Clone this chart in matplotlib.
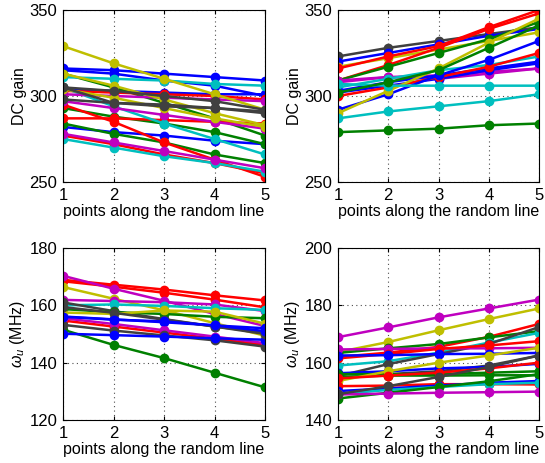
import matplotlib
matplotlib.use("Agg")
import matplotlib.pyplot as plt

plt.rcParams['font.family'] = ['Liberation Sans', 'DejaVu Sans']
plt.rcParams['mathtext.fontset'] = 'custom'
plt.rcParams['mathtext.it'] = 'Liberation Sans:italic'
plt.rcParams['mathtext.rm'] = 'Liberation Sans'

x_points = [1, 2, 3, 4, 5]
x_label = "points along the random line"

# MATLAB-style colour letters
palette = {
    'b': (0, 0, 1), 'g': (0, 0.5, 0), 'r': (1, 0, 0), 'c': (0, 0.75, 0.75),
    'm': (0.75, 0, 0.75), 'y': (0.75, 0.75, 0), 'k': (0.25, 0.25, 0.25),
}

# Panel 1: DC gain, decreasing
p1_colors = ['b', 'b', 'b', 'b', 'g', 'g', 'g', 'r', 'r', 'r', 'r', 'c', 'c', 'c',
             'm', 'm', 'm', 'y', 'y', 'y', 'k', 'k', 'k']
p1_values = [
    [316, 315, 313, 311, 309],
    [315, 313, 309, 306, 300],
    [304, 303, 302, 301, 301],
    [282, 279, 277, 274, 272],
    [313, 305, 296, 287, 277],
    [293, 288, 284, 279, 272],
    [284, 278, 273, 266, 261],
    [295, 285, 273, 263, 253],
    [287, 287, 286, 285, 284],
    [303, 302, 301, 300, 298],
    [277, 272, 266, 261, 255],
    [311, 310, 309, 307, 306],
    [305, 294, 284, 275, 266],
    [275, 270, 265, 261, 256],
    [301, 300, 299, 298, 297],
    [297, 293, 289, 285, 281],
    [278, 273, 268, 263, 258],
    [329, 319, 310, 301, 292],
    [313, 306, 298, 290, 283],
    [304, 299, 293, 287, 282],
    [305, 303, 300, 297, 292],
    [305, 296, 295, 293, 290],
    [298, 296, 294, 293, 291],
]

# Panel 2: DC gain, increasing
p2_colors = ['k', 'b', 'y', 'r', 'r', 'g', 'm', 'm', 'c', 'b', 'b', 'r', 'b', 'y',
             'c', 'c', 'g', 'g']
p2_values = [
    [323, 328, 332, 336, 340],
    [320, 325, 330, 335, 339],
    [317, 322, 327, 332, 337],
    [316, 323, 329, 340, 350],
    [309, 318, 328, 339, 348],
    [309, 317, 325, 333, 343],
    [309, 311, 310, 313, 316],
    [308, 311, 312, 314, 316],
    [305, 310, 315, 318, 323],
    [303, 308, 312, 316, 320],
    [302, 306, 310, 315, 319],
    [300, 305, 311, 317, 325],
    [292, 301, 312, 321, 332],
    [290, 303, 316, 331, 345],
    [307, 306, 306, 306, 306],
    [287, 291, 294, 297, 301],
    [279, 280, 281, 283, 284],
    [302, 308, 315, 328, 341],
]

# Panel 3: unity-gain frequency, decreasing
p3_colors = ['g', 'r', 'r', 'm', 'y', 'm', 'c', 'k', 'g', 'y', 'b', 'r', 'm', 'k',
             'b', 'k', 'b']
p3_values = [
    [151.5, 146.2, 141.6, 136.5, 131.4],
    [168.9, 167.2, 165.5, 163.5, 161.7],
    [168.4, 166.5, 164.4, 162.0, 159.3],
    [170.3, 165.8, 161.6, 157.0, 152.8],
    [166.4, 162.3, 158.3, 153.8, 149.4],
    [161.9, 161.5, 161.1, 160.3, 158.0],
    [160.0, 160.3, 159.8, 159.0, 158.4],
    [161.0, 158.0, 155.2, 152.6, 150.5],
    [158.7, 157.6, 157.0, 156.0, 155.5],
    [157.5, 157.0, 158.2, 157.8, 153.6],
    [156.1, 155.1, 154.1, 153.0, 152.0],
    [154.7, 152.6, 150.5, 148.4, 146.2],
    [155.5, 153.5, 151.3, 149.1, 146.8],
    [153.2, 151.2, 149.5, 147.8, 145.6],
    [150.1, 149.6, 149.1, 148.5, 148.0],
    [159.4, 157.4, 155.0, 152.6, 150.0],
    [156.0, 155.0, 154.4, 153.0, 151.0],
]

# Panel 4: unity-gain frequency, increasing
p4_colors = ['m', 'y', 'r', 'g', 'c', 'k', 'm', 'r', 'b', 'k', 'b', 'g', 'g', 'y',
             'r', 'r', 'b', 'c', 'g', 'm', 'k']
p4_values = [
    [168.9, 172.3, 175.8, 178.9, 182.0],
    [163.7, 167.2, 171.3, 175.2, 178.9],
    [162.0, 163.5, 165.5, 169.0, 173.5],
    [163.4, 165.0, 166.5, 168.8, 171.0],
    [159.0, 160.5, 163.5, 167.0, 170.4],
    [155.3, 159.5, 163.0, 166.5, 172.4],
    [164.6, 164.8, 165.0, 165.0, 165.2],
    [161.5, 163.0, 164.8, 166.0, 167.5],
    [162.5, 162.6, 163.0, 163.1, 163.4],
    [156.0, 156.0, 157.0, 159.0, 162.5],
    [156.3, 157.0, 158.0, 158.5, 159.6],
    [156.0, 156.0, 156.0, 156.5, 157.0],
    [155.0, 155.5, 155.5, 155.6, 155.6],
    [153.6, 157.0, 160.0, 162.5, 165.2],
    [154.5, 155.5, 156.5, 158.0, 160.0],
    [151.8, 152.0, 152.5, 152.5, 152.4],
    [150.1, 151.0, 152.0, 153.0, 153.6],
    [149.0, 150.5, 151.5, 152.5, 153.0],
    [147.5, 149.5, 151.5, 153.5, 156.0],
    [148.9, 149.2, 149.5, 149.7, 149.9],
    [149.0, 151.8, 155.0, 158.5, 162.5],
]

panels = [
    (p1_values, p1_colors, "DC gain", (250, 350), [250, 300, 350]),
    (p2_values, p2_colors, "DC gain", (250, 350), [250, 300, 350]),
    (p3_values, p3_colors, r"$\omega_u$ (MHz)", (120, 180), [120, 140, 160, 180]),
    (p4_values, p4_colors, r"$\omega_u$ (MHz)", (140, 200), [140, 160, 180, 200]),
]

fig = plt.figure(figsize=(5.45, 4.63), dpi=100)
W, H = 545, 463
boxes = [(63, 10, 202, 172), (338, 10, 201, 172), (63, 248, 202, 172), (338, 248, 201, 172)]

for (vals, cols, ylab, ylim, yticks), (l, t, w, h) in zip(panels, boxes):
    ax = fig.add_axes([l / W, 1 - (t + h) / H, w / W, h / H])
    for v, c in zip(vals, cols):
        ax.plot(x_points, v, '-o', color=palette[c], lw=1.8, ms=6,
                markeredgecolor=palette[c])
    ax.set_xlim(1, 5)
    ax.set_ylim(*ylim)
    ax.set_xticks(x_points)
    ax.set_yticks(yticks)
    ax.grid(True, linestyle=(0, (1, 3)), color='0.3', lw=0.8)
    ax.tick_params(direction='in', labelsize=12, top=True, right=True, length=3, pad=4)
    ax.set_xlabel(x_label, fontsize=11.5, labelpad=1)
    ax.set_ylabel(ylab, fontsize=11.5, labelpad=2)
    for s in ax.spines.values():
        s.set_linewidth(0.8)
    ax.set_axisbelow(True)

fig.savefig("out.png", dpi=100)
